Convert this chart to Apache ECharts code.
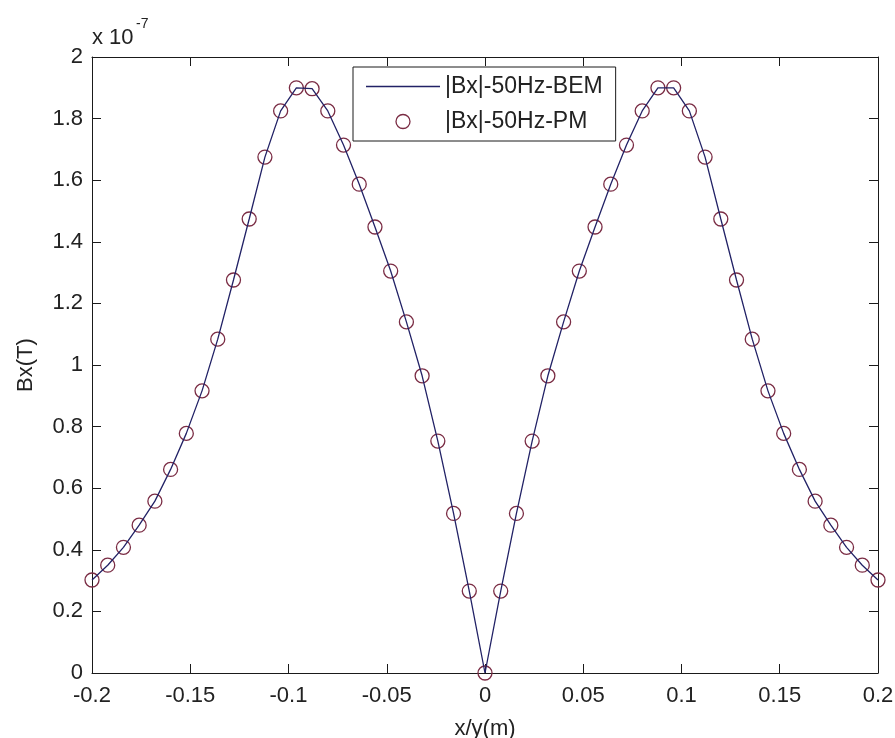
<!DOCTYPE html>
<html>
<head>
<meta charset="utf-8">
<script src="https://cdn.jsdelivr.net/npm/echarts@6/dist/echarts.min.js"></script>
<style>
html,body{margin:0;padding:0;background:#fff;}
#chart{width:895px;height:738px;}
</style>
</head>
<body>
<div id="chart"></div>
<script>
// Data (y in units of 1e-7 T)
const xValues = [
  -0.200,-0.192,-0.184,-0.176,-0.168,-0.160,-0.152,-0.144,-0.136,-0.128,
  -0.120,-0.112,-0.104,-0.096,-0.088,-0.080,-0.072,-0.064,-0.056,-0.048,
  -0.040,-0.032,-0.024,-0.016,-0.008, 0.000, 0.008, 0.016, 0.024, 0.032,
   0.040, 0.048, 0.056, 0.064, 0.072, 0.080, 0.088, 0.096, 0.104, 0.112,
   0.120, 0.128, 0.136, 0.144, 0.152, 0.160, 0.168, 0.176, 0.184, 0.192, 0.200
];
const bemValues = [
  0.302,0.350,0.408,0.480,0.558,0.661,0.778,0.916,1.084,1.276,
  1.474,1.675,1.825,1.900,1.897,1.825,1.714,1.587,1.448,1.305,
  1.140,0.965,0.753,0.518,0.266,0.000,0.266,0.518,0.753,0.965,
  1.140,1.305,1.448,1.587,1.714,1.825,1.900,1.900,1.825,1.675,
  1.474,1.276,1.084,0.916,0.778,0.661,0.558,0.480,0.408,0.350,0.302
];
const pmValues = [
  0.302,0.350,0.408,0.480,0.558,0.661,0.778,0.916,1.084,1.276,
  1.474,1.675,1.825,1.900,1.897,1.825,1.714,1.587,1.448,1.305,
  1.140,0.965,0.753,0.518,0.266,0.000,0.266,0.518,0.753,0.965,
  1.140,1.305,1.448,1.587,1.714,1.825,1.900,1.900,1.825,1.675,
  1.474,1.276,1.084,0.916,0.778,0.661,0.558,0.480,0.408,0.350,0.302
];
const seriesNames = ['|Bx|-50Hz-BEM', '|Bx|-50Hz-PM'];
const xAxisName = 'x/y(m)';
const yAxisName = 'Bx(T)';
const xTicks = {min: -0.2, max: 0.2, interval: 0.05};
const yTicks = {min: 0, max: 2, interval: 0.2};

const FONT = 'Liberation Sans, Arial, sans-serif';
const AX = '#1a1a1a';
const LINE_C = '#222266';
const MARK_C = '#7a2c44';
const fmt = v => String(Number(v.toFixed(3)));

const chart = echarts.init(document.getElementById('chart'), null, {renderer: 'canvas'});

const baseAxis = {
  type: 'value',
  axisLine: {show: true, onZero: false, lineStyle: {color: AX, width: 1}},
  axisTick: {show: true, inside: true, length: 9, lineStyle: {color: AX, width: 1}},
  splitLine: {show: false},
};

chart.setOption({
  animation: false,
  backgroundColor: '#ffffff',
  grid: {left: 92, right: 17, top: 57, bottom: 65, containLabel: false, outerBoundsMode: 'none'},
  legend: {
    left: 353, top: 67,
    orient: 'vertical',
    itemWidth: 74, itemHeight: 14, itemGap: 12,
    padding: [8, 13, 8, 13],
    borderColor: '#1a1a1a', borderWidth: 1, backgroundColor: '#ffffff',
    textStyle: {fontFamily: FONT, fontSize: 23, color: '#222'},
    data: [
      {name: seriesNames[0], icon: 'path://M0,0L74,0L74,1.3L0,1.3Z', itemStyle: {color: LINE_C}},
      {name: seriesNames[1], icon: 'circle', itemStyle: {color: 'rgba(0,0,0,0)', borderColor: MARK_C, borderWidth: 1.3}}
    ]
  },
  graphic: [
    {type: 'text', left: 92, top: 27, style: {text: 'x 10', font: '22px ' + FONT, fill: '#222'}},
    {type: 'text', left: 136, top: 17, style: {text: '-7', font: '14px ' + FONT, fill: '#222'}}
  ],
  xAxis: [
    Object.assign({}, baseAxis, {
      min: xTicks.min, max: xTicks.max, interval: xTicks.interval, position: 'bottom',
      name: xAxisName, nameLocation: 'middle', nameGap: 45,
      nameTextStyle: {fontFamily: FONT, fontSize: 22, color: '#222'},
      axisLabel: {margin: 12, fontFamily: FONT, fontSize: 22, color: '#222', formatter: fmt}
    }),
    Object.assign({}, baseAxis, {
      min: xTicks.min, max: xTicks.max, interval: xTicks.interval, position: 'top',
      axisLabel: {show: false}
    })
  ],
  yAxis: [
    Object.assign({}, baseAxis, {
      min: yTicks.min, max: yTicks.max, interval: yTicks.interval, position: 'left',
      name: yAxisName, nameLocation: 'middle', nameGap: 55, nameRotate: 90,
      nameTextStyle: {fontFamily: FONT, fontSize: 22, color: '#222'},
      axisLabel: {margin: 9, fontFamily: FONT, fontSize: 22, color: '#222', formatter: fmt}
    }),
    Object.assign({}, baseAxis, {
      min: yTicks.min, max: yTicks.max, interval: yTicks.interval, position: 'right',
      axisLabel: {show: false}
    })
  ],
  series: [
    {
      name: seriesNames[0], type: 'line', xAxisIndex: 0, yAxisIndex: 0,
      symbol: 'none', showSymbol: false,
      lineStyle: {color: LINE_C, width: 1.3},
      itemStyle: {color: LINE_C},
      data: xValues.map((x, i) => [x, bemValues[i]]),
      z: 3
    },
    {
      name: seriesNames[1], type: 'scatter', xAxisIndex: 0, yAxisIndex: 0,
      symbol: 'circle', symbolSize: 14,
      itemStyle: {color: 'rgba(0,0,0,0)', borderColor: MARK_C, borderWidth: 1.3, opacity: 1},
      data: xValues.map((x, i) => [x, pmValues[i]]),
      z: 2
    }
  ]
});
</script>
</body>
</html>
